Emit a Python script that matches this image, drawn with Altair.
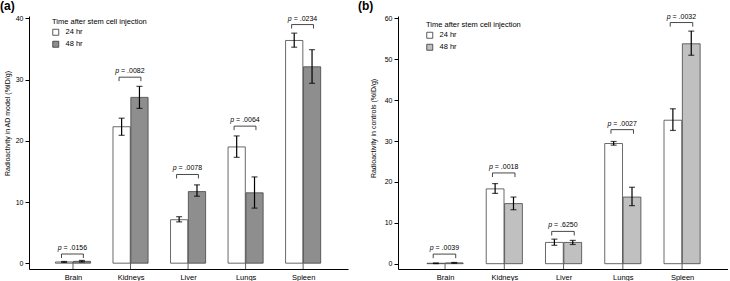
import json
import altair as alt
import pandas as pd

organs = ["Brain", "Kidneys", "Liver", "Lungs", "Spleen"]
groups = ["24 hr", "48 hr"]

# Panel (a): AD model
a_24 = [0.2, 22.3, 7.1, 19.0, 36.4]
a_24_lo = [0.12, 20.9, 6.75, 17.3, 35.3]
a_24_hi = [0.28, 23.7, 7.6, 20.8, 37.6]
a_48 = [0.3, 27.1, 11.7, 11.5, 32.1]
a_48_lo = [0.2, 25.3, 10.95, 9.0, 29.4]
a_48_hi = [0.45, 28.9, 12.8, 14.1, 34.9]
a_p = [".0156", ".0082", ".0078", ".0064", ".0234"]
a_bracket = [1.5, 30.4, 14.5, 22.4, 39.0]

# Panel (b): controls
b_24 = [0.1, 18.3, 5.2, 29.4, 35.1]
b_24_lo = [0.02, 17.2, 4.5, 29.0, 32.6]
b_24_hi = [0.18, 19.6, 6.0, 29.9, 37.9]
b_48 = [0.2, 14.7, 5.2, 16.3, 53.8]
b_48_lo = [0.1, 13.2, 4.7, 14.2, 51.0]
b_48_hi = [0.3, 16.3, 5.7, 18.7, 56.9]
b_p = [".0039", ".0018", ".6250", ".0027", ".0032"]
b_bracket = [2.35, 22.2, 7.9, 32.8, 59.0]

FONT = "Liberation Sans"


def long_df(v24, lo24, hi24, v48, lo48, hi48):
    rows = []
    for i, o in enumerate(organs):
        rows.append(dict(organ=o, idx=i, group=groups[0], value=v24[i], lo=lo24[i], hi=hi24[i]))
        rows.append(dict(organ=o, idx=i, group=groups[1], value=v48[i], lo=lo48[i], hi=hi48[i]))
    return pd.DataFrame(rows)


def p_df(pv, br):
    return pd.DataFrame({"idx": list(range(len(organs))), "y": br, "p": pv})


def panel(df, pdf, ydom, ymax_tick, xdom, width, height, grey, tag, tagx,
          ytitle, title_y, title_pad, legx, legy, leg_len):
    xs = alt.Scale(domain=xdom, nice=False, zero=False)
    ys = alt.Scale(domain=ydom, nice=False, zero=False)
    label_expr = json.dumps(organs) + "[datum.value]"
    xaxis = alt.Axis(values=list(range(len(organs))), labelExpr=label_expr, ticks=False,
                     grid=False, labelPadding=4, title=None, labelFontSize=7.5,
                     labelColor="black", domainColor="black", domainWidth=1)
    yaxis = alt.Axis(values=list(range(0, ymax_tick + 1, 5)),
                     labelExpr="datum.value % 10 == 0 ? datum.value : ''",
                     tickSize=4, grid=False, labelFontSize=7, labelPadding=2,
                     labelColor="black", domainColor="black", tickColor="black",
                     domainWidth=1, tickWidth=1,
                     title=ytitle, titleFontSize=7, titleFontWeight="normal",
                     titleColor="black", titlePadding=title_pad, titleY=title_y)

    base = alt.Chart(df).transform_calculate(
        x0="datum.idx + (datum.group == '24 hr' ? -0.305 : 0.005)",
        zero="0",
    ).transform_calculate(x1="datum.x0 + 0.3", xc="datum.x0 + 0.15")

    bars = base.mark_bar(stroke="#444444", strokeWidth=0.8).encode(
        x=alt.X("x0:Q", scale=xs, axis=xaxis),
        x2="x1:Q",
        y=alt.Y("value:Q", scale=ys, axis=yaxis),
        y2="zero:Q",
        color=alt.Color(
            "group:N",
            scale=alt.Scale(domain=groups, range=["white", grey]),
            legend=alt.Legend(
                title="Time after stem cell injection", orient="none",
                legendX=legx, legendY=legy, symbolType="square", symbolSize=36,
                symbolStrokeColor="#333333", symbolStrokeWidth=0.8,
                titleFontSize=7.5, titleFontWeight="normal", titleColor="black",
                labelFontSize=7.5, labelColor="black", padding=0, rowPadding=2,
                titlePadding=3, labelOffset=6,
            ),
        ),
    )
    err = base.mark_rule(color="black", strokeWidth=1.2).encode(
        x="xc:Q", y="lo:Q", y2="hi:Q")
    cap_lo = base.mark_tick(orient="horizontal", size=6, thickness=1.2, color="black").encode(
        x="xc:Q", y="lo:Q")
    cap_hi = base.mark_tick(orient="horizontal", size=6, thickness=1.2, color="black").encode(
        x="xc:Q", y="hi:Q")

    centers = alt.Chart(pdf).transform_calculate(
        zero="0", bottom=str(ydom[0])
    ).mark_rule(color="#333333", strokeWidth=0.8).encode(
        x="idx:Q", y="zero:Q", y2="bottom:Q")

    pb = alt.Chart(pdf).transform_calculate(
        xl="datum.idx - 0.2", xr="datum.idx + 0.18", xm="datum.idx - 0.01",
        yb="datum.y - " + str(leg_len), rest="'= ' + datum.p",
    )
    hline = pb.mark_rule(color="#333333", strokeWidth=0.9).encode(x="xl:Q", x2="xr:Q", y="y:Q")
    legl = pb.mark_rule(color="#333333", strokeWidth=0.9).encode(x="xl:Q", y="yb:Q", y2="y:Q")
    legr = pb.mark_rule(color="#333333", strokeWidth=0.9).encode(x="xr:Q", y="yb:Q", y2="y:Q")
    ptxt = pb.mark_text(align="left", baseline="alphabetic", dx=-14.7, dy=-4, fontSize=7,
                        fontStyle="italic", color="black").encode(
        x="xm:Q", y="y:Q", text=alt.value("p"))
    rtxt = pb.mark_text(align="left", baseline="alphabetic", dx=-8.9, dy=-4, fontSize=7,
                        color="black").encode(x="xm:Q", y="y:Q", text="rest:N")

    tagm = alt.Chart(alt.Data(values=[{"t": tag}])).mark_text(
        align="left", baseline="top", fontSize=12, fontWeight="bold", color="black"
    ).encode(x=alt.value(tagx), y=alt.value(-15), text="t:N")

    return alt.layer(bars, centers, err, cap_lo, cap_hi, hline, legl, legr, ptxt, rtxt, tagm).properties(
        width=width, height=height)


pa = panel(long_df(a_24, a_24_lo, a_24_hi, a_48, a_48_lo, a_48_hi), p_df(a_p, a_bracket),
           [-0.95, 40.4], 40, [-0.765, 4.78], 319, 253, "#8e8e8e", "(a)", -29,
           "Radioactivity in AD model (%ID/g)", 107, 4.5, 23, 2, 0.65)
pb_ = panel(long_df(b_24, b_24_lo, b_24_hi, b_48, b_48_lo, b_48_hi), p_df(b_p, b_bracket),
            [-1.3, 60.6], 60, [-0.794, 4.775], 330, 253, "#c0c0c0", "(b)", -40,
            "Radioactivity in controls (%ID/g)", 112, 7.5, 28, 5, 1.0)

chart = alt.hconcat(pa, pb_, spacing=50, bounds="flush").resolve_scale(
    color="independent", x="independent", y="independent"
).properties(padding=0).configure(font=FONT).configure_view(stroke=None)

chart.save("out.html", embed_options={"renderer": "svg", "actions": False})
